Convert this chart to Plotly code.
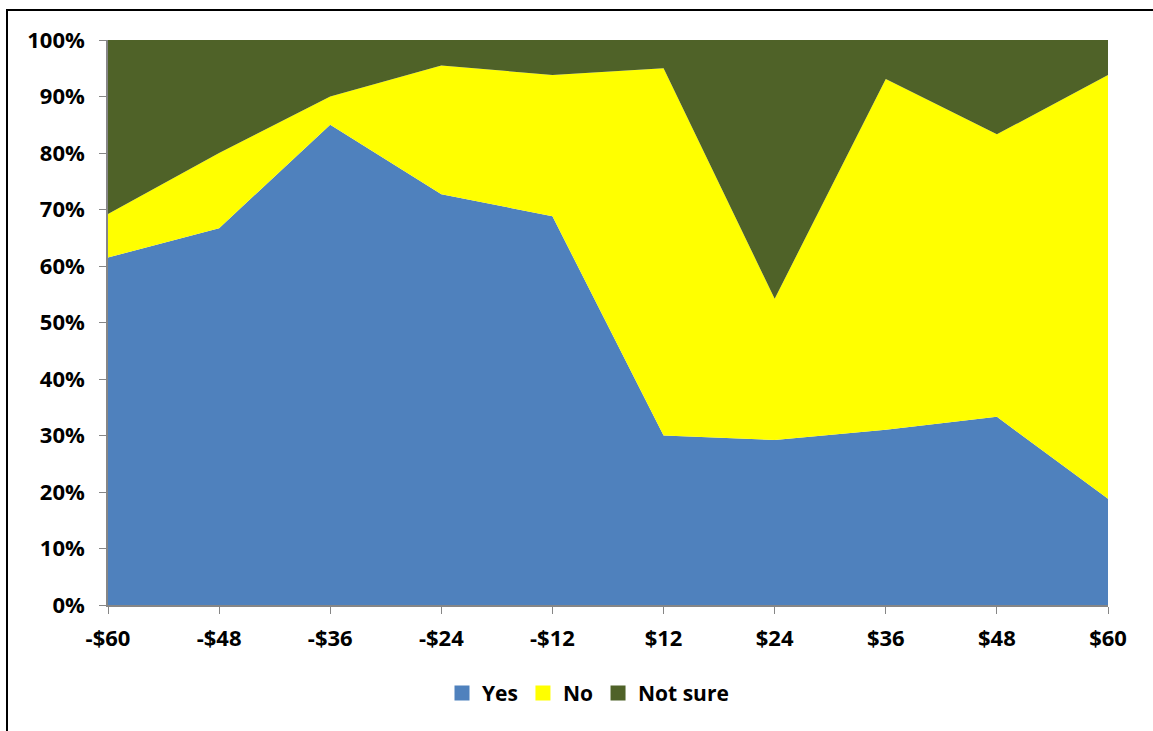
import plotly.graph_objects as go

categories = ["-$60", "-$48", "-$36", "-$24", "-$12", "$12", "$24", "$36", "$48", "$60"]
yes = [61.5, 66.7, 85.0, 72.7, 68.8, 30.0, 29.2, 31.0, 33.3, 18.8]
no = [7.7, 13.3, 5.0, 22.8, 25.0, 65.0, 25.0, 62.1, 50.0, 75.0]
not_sure = [30.8, 20.0, 10.0, 4.5, 6.2, 5.0, 45.8, 6.9, 16.7, 6.2]
y_ticks = [0, 10, 20, 30, 40, 50, 60, 70, 80, 90, 100]
y_tick_labels = [f"{v}%" for v in y_ticks]

series = [("Yes", yes, "#4F81BD"), ("No", no, "#FFFF00"), ("Not sure", not_sure, "#4F6228")]

fig = go.Figure()
for name, vals, col in series:
    fig.add_trace(go.Scatter(
        x=categories, y=vals, name=name, mode="lines",
        stackgroup="one", line=dict(width=0, color=col),
        fillcolor=col, showlegend=False,
    ))
# legend entries with square swatches
for name, vals, col in series:
    fig.add_trace(go.Scatter(
        x=[None], y=[None], name=name, mode="markers",
        marker=dict(symbol="square", size=15, color=col),
    ))

font_family = "Open Sans, Liberation Sans, Arial, sans-serif"
fig.update_layout(
    width=1153, height=731,
    margin=dict(l=108, r=45, t=40, b=126),
    paper_bgcolor="white", plot_bgcolor="white",
    font=dict(family=font_family, size=19, color="black"),
    showlegend=True,
    legend=dict(orientation="h", x=0.48, xanchor="center", y=-0.12, yanchor="top",
                font=dict(size=21, family=font_family, weight="bold"), traceorder="normal",
                itemwidth=30),
    xaxis=dict(type="category", range=[0, 9], showgrid=False, showline=True,
               linecolor="#868686", linewidth=1.5, ticks="outside", ticklen=7,
               tickcolor="#868686", tickfont=dict(size=22, weight="bold"), zeroline=False,
               ticklabelstandoff=6),
    yaxis=dict(range=[0, 100], tickvals=y_ticks, ticktext=y_tick_labels, showgrid=False,
               showline=True, linecolor="#868686", linewidth=1.5, ticks="outside",
               ticklen=7, tickcolor="#868686", tickfont=dict(size=22, weight="bold"),
               zeroline=False, ticklabelstandoff=10),
    shapes=[dict(type="rect", xref="paper", yref="paper",
                 x0=-0.101, x1=1.2, y0=-0.3, y1=1.053,
                 line=dict(color="black", width=2), fillcolor="rgba(0,0,0,0)", layer="below")],
)

fig.write_html("out.html")
